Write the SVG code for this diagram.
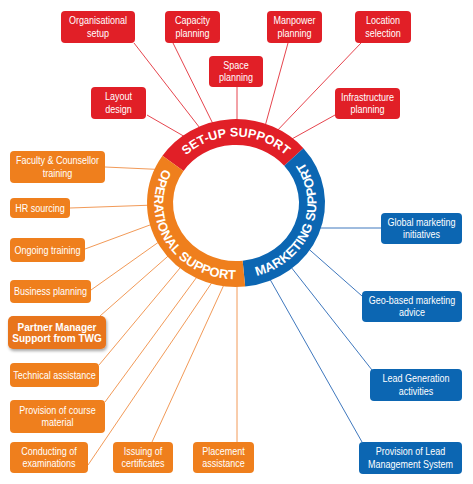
<svg xmlns="http://www.w3.org/2000/svg" width="473" height="484" viewBox="0 0 473 484">
<defs>
<style>
.bg{fill:#ffffff}
.red{fill:#E11F27}
.org{fill:#EF7F1D}
.blu{fill:#0C66B2}
.bt{font-family:"Liberation Sans Narrow","Liberation Sans",Arial,sans-serif;font-size:11px;fill:#ffffff;text-anchor:middle}
.pt{font-family:"Liberation Sans",Arial,sans-serif;font-size:10px;font-weight:bold;fill:#ffffff;text-anchor:middle}
.rt{font-family:"Liberation Sans",Arial,sans-serif;font-weight:bold;fill:#ffffff;text-anchor:middle}
.lr{stroke:#E6454E;stroke-width:1;fill:none}
.lo{stroke:#F29A58;stroke-width:1;fill:none}
.lb{stroke:#3F78BE;stroke-width:1;fill:none}
.seg{fill:none;stroke-width:26}
</style>
<filter id="sh" x="-10%" y="-20%" width="130%" height="150%">
<feDropShadow dx="1" dy="2" stdDeviation="1.5" flood-color="#000" flood-opacity="0.35"/>
</filter>
<path id="pSet" d="M 164.5 203 A 71.5 66.5 0 0 1 307.5 203"/>
<path id="pOp" d="M 193.3 139 A 80.5 75.5 0 0 0 276.3 268.4"/>
<path id="pMk" d="M 209.1 274.2 A 80.5 75.5 0 0 0 265.5 132.8"/>
</defs>
<rect class="bg" x="0" y="0" width="473" height="484"/>

<g id="connectors">
<line class="lr" x1="134" y1="43" x2="203" y2="132"/>
<line class="lr" x1="173" y1="43" x2="216" y2="130"/>
<line class="lr" x1="237" y1="87" x2="237" y2="128"/>
<line class="lr" x1="288" y1="43" x2="264" y2="130"/>
<line class="lr" x1="361" y1="43" x2="274" y2="134"/>
<line class="lr" x1="335" y1="115" x2="290" y2="140"/>
<line class="lr" x1="147" y1="115" x2="187" y2="138"/>
<line class="lo" x1="105" y1="167" x2="160" y2="169.5"/>
<line class="lo" x1="70" y1="208" x2="155" y2="205"/>
<line class="lo" x1="85" y1="249" x2="158" y2="222"/>
<line class="lo" x1="91" y1="290" x2="163" y2="239"/>
<line class="lo" x1="100" y1="316" x2="175" y2="250"/>
<line class="lo" x1="99" y1="365" x2="185" y2="262"/>
<line class="lo" x1="105" y1="402" x2="202" y2="270"/>
<line class="lo" x1="88" y1="465" x2="217" y2="275"/>
<line class="lo" x1="152" y1="442" x2="227" y2="278"/>
<line class="lo" x1="237" y1="442" x2="237" y2="278"/>
<line class="lb" x1="381" y1="228" x2="314" y2="228"/>
<line class="lb" x1="362" y1="296" x2="303" y2="244"/>
<line class="lb" x1="372" y1="370" x2="287" y2="262"/>
<line class="lb" x1="362" y1="442" x2="267" y2="274"/>
</g>

<g id="ring">
<path class="seg" stroke="#E11F27" d="M 173 163.3 A 76 71 0 0 1 293.8 156.9"/>
<path class="seg" stroke="#0C66B2" d="M 293.8 156.9 A 76 71 0 0 1 243.9 273.6"/>
<path class="seg" stroke="#EF7F1D" d="M 243.9 273.6 A 76 71 0 0 1 173 163.3"/>
<text class="rt" font-size="12.5"><textPath href="#pSet" startOffset="50%">SET-UP SUPPORT</textPath></text>
<text class="rt" font-size="13"><textPath href="#pOp" startOffset="50%">OPERATIONAL SUPPORT</textPath></text>
<text class="rt" font-size="13"><textPath href="#pMk" startOffset="50%">MARKETING SUPPORT</textPath></text>
</g>

<g id="n-organisational">
<rect class="red" x="61" y="11" width="74" height="32" rx="4"/>
<text class="bt" transform="translate(98 0) scale(0.82 1)"><tspan x="0" y="24.5">Organisational</tspan><tspan x="0" y="37">setup</tspan></text>
</g>
<g id="n-capacity">
<rect class="red" x="165" y="11" width="55" height="32" rx="4"/>
<text class="bt" transform="translate(192.5 0) scale(0.82 1)"><tspan x="0" y="24.5">Capacity</tspan><tspan x="0" y="37">planning</tspan></text>
</g>
<g id="n-space">
<rect class="red" x="209" y="56" width="54" height="31" rx="4"/>
<text class="bt" transform="translate(236 0) scale(0.82 1)"><tspan x="0" y="69">Space</tspan><tspan x="0" y="81.5">planning</tspan></text>
</g>
<g id="n-manpower">
<rect class="red" x="267" y="11" width="55" height="32" rx="4"/>
<text class="bt" transform="translate(294.5 0) scale(0.82 1)"><tspan x="0" y="24.5">Manpower</tspan><tspan x="0" y="37">planning</tspan></text>
</g>
<g id="n-location">
<rect class="red" x="355" y="11" width="56" height="32" rx="4"/>
<text class="bt" transform="translate(383 0) scale(0.82 1)"><tspan x="0" y="24.5">Location</tspan><tspan x="0" y="37">selection</tspan></text>
</g>
<g id="n-infrastructure">
<rect class="red" x="335" y="88" width="65" height="31" rx="4"/>
<text class="bt" transform="translate(367.5 0) scale(0.82 1)"><tspan x="0" y="101">Infrastructure</tspan><tspan x="0" y="113.5">planning</tspan></text>
</g>
<g id="n-layout">
<rect class="red" x="91" y="87" width="55" height="32" rx="4"/>
<text class="bt" transform="translate(118.5 0) scale(0.82 1)"><tspan x="0" y="100.5">Layout</tspan><tspan x="0" y="113">design</tspan></text>
</g>

<g id="n-faculty">
<rect class="org" x="10" y="151" width="95" height="32" rx="4"/>
<text class="bt" transform="translate(57.5 0) scale(0.82 1)"><tspan x="0" y="164.5">Faculty &amp; Counsellor</tspan><tspan x="0" y="177">training</tspan></text>
</g>
<g id="n-hr">
<rect class="org" x="10" y="198" width="60" height="20" rx="4"/>
<text class="bt" transform="translate(40 0) scale(0.82 1)" x="0" y="211.8">HR sourcing</text>
</g>
<g id="n-ongoing">
<rect class="org" x="10" y="238" width="75" height="24" rx="4"/>
<text class="bt" transform="translate(47.5 0) scale(0.82 1)" x="0" y="253.8">Ongoing training</text>
</g>
<g id="n-business">
<rect class="org" x="10" y="280" width="81" height="23" rx="4"/>
<text class="bt" transform="translate(50.5 0) scale(0.82 1)" x="0" y="295.3">Business planning</text>
</g>
<g id="n-partner">
<rect x="8" y="316" width="98" height="33" rx="5" fill="#E8751D" filter="url(#sh)"/>
<text class="pt"><tspan x="57" y="331">Partner Manager</tspan><tspan x="57" y="341.5">Support from TWG</tspan></text>
</g>
<g id="n-technical">
<rect class="org" x="10" y="363" width="89" height="24" rx="4"/>
<text class="bt" transform="translate(54.5 0) scale(0.82 1)" x="0" y="378.8">Technical assistance</text>
</g>
<g id="n-provision">
<rect class="org" x="10" y="400" width="95" height="33" rx="4"/>
<text class="bt" transform="translate(57.5 0) scale(0.82 1)"><tspan x="0" y="414">Provision of course</tspan><tspan x="0" y="426.5">material</tspan></text>
</g>
<g id="n-conducting">
<rect class="org" x="10" y="442" width="78" height="31" rx="4"/>
<text class="bt" transform="translate(49 0) scale(0.82 1)"><tspan x="0" y="455">Conducting of</tspan><tspan x="0" y="467.5">examinations</tspan></text>
</g>
<g id="n-issuing">
<rect class="org" x="113" y="442" width="60" height="31" rx="4"/>
<text class="bt" transform="translate(143 0) scale(0.82 1)"><tspan x="0" y="455">Issuing of</tspan><tspan x="0" y="467.5">certificates</tspan></text>
</g>
<g id="n-placement">
<rect class="org" x="193" y="442" width="61" height="31" rx="4"/>
<text class="bt" transform="translate(223.5 0) scale(0.82 1)"><tspan x="0" y="455">Placement</tspan><tspan x="0" y="467.5">assistance</tspan></text>
</g>

<g id="n-global">
<rect class="blu" x="381" y="213" width="81" height="31" rx="4"/>
<text class="bt" transform="translate(421.5 0) scale(0.82 1)"><tspan x="0" y="226">Global marketing</tspan><tspan x="0" y="238.5">initiatives</tspan></text>
</g>
<g id="n-geo">
<rect class="blu" x="362" y="291" width="100" height="31" rx="4"/>
<text class="bt" transform="translate(412 0) scale(0.82 1)"><tspan x="0" y="304">Geo-based marketing</tspan><tspan x="0" y="316.5">advice</tspan></text>
</g>
<g id="n-leadgen">
<rect class="blu" x="370" y="369" width="92" height="32" rx="4"/>
<text class="bt" transform="translate(416 0) scale(0.82 1)"><tspan x="0" y="382.5">Lead Generation</tspan><tspan x="0" y="395">activities</tspan></text>
</g>
<g id="n-leadmgmt">
<rect class="blu" x="359" y="442" width="103" height="32" rx="4"/>
<text class="bt" transform="translate(410.5 0) scale(0.82 1)"><tspan x="0" y="455.5">Provision of Lead</tspan><tspan x="0" y="468">Management System</tspan></text>
</g>
</svg>
